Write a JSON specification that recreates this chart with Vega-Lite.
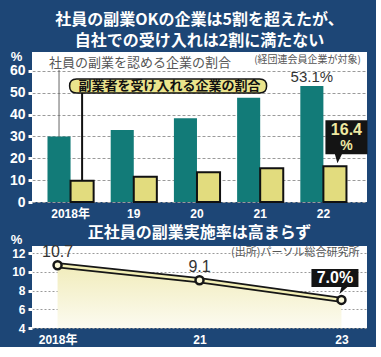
{
  "$schema": "https://vega.github.io/schema/vega-lite/v6.json",
  "background": "#1d4676",
  "padding": {"left": 9, "top": 12, "right": 8, "bottom": 2},
  "spacing": 6,
  "config": {
    "view": {"stroke": null, "fill": "white"},
    "font": "Liberation Sans, Noto Sans CJK JP",
    "title": {"color": "white", "font": "Noto Sans CJK JP", "fontWeight": "bold", "frame": "group", "anchor": "middle"},
    "axis": {"domain": false, "labelColor": "white", "labelFontWeight": "bold", "labelFont": "Liberation Sans, Noto Sans CJK JP"}
  },
  "vconcat": [
    {
      "title": {"text": ["社員の副業OKの企業は5割を超えたが、", "自社での受け入れは2割に満たない"], "fontSize": 16, "lineHeight": 21, "offset": 1},
      "width": 335,
      "height": 150,
      "data": {"values": [
        {"label": "2018年", "series": "a", "value": 30.0},
        {"label": "2018年", "series": "b", "value": 9.7},
        {"label": "19", "series": "a", "value": 33.0},
        {"label": "19", "series": "b", "value": 11.6},
        {"label": "20", "series": "a", "value": 38.4},
        {"label": "20", "series": "b", "value": 13.6},
        {"label": "21", "series": "a", "value": 47.8},
        {"label": "21", "series": "b", "value": 15.5},
        {"label": "22", "series": "a", "value": 53.1},
        {"label": "22", "series": "b", "value": 16.4}
      ]},
      "encoding": {
        "x": {"field": "label", "type": "nominal", "scale": {"domain": ["2018年", "19", "20", "21", "22"], "paddingInner": 0.27, "paddingOuter": 0.285, "align": 0.43},
          "axis": {"title": null, "labelAngle": 0, "labelFontSize": 12, "labelPadding": 6, "ticks": false}},
        "xOffset": {"field": "series", "type": "nominal", "scale": {"domain": ["a", "b"], "paddingInner": 0}},
        "y": {"field": "value", "type": "quantitative", "scale": {"domain": [0, 68.7], "nice": false, "zero": true},
          "axis": {"values": [0, 10, 20, 30, 40, 50, 60], "title": "%", "titleAngle": 0, "titleX": -16, "titleY": 4, "titleAlign": "center", "titleBaseline": "middle", "titleColor": "white", "titleFontSize": 13, "titleFontWeight": "bold", "labelFontSize": 14, "labelPadding": 3, "tickColor": "white", "tickSize": 4, "tickWidth": 3, "gridColor": "#9a9a9a", "gridDash": [3, 2], "gridWidth": 1}}
      },
      "layer": [
        {"transform": [{"filter": "datum.series === 'a'"}], "mark": {"type": "bar", "color": "#127b78"}},
        {"transform": [{"filter": "datum.series === 'b'"}], "mark": {"type": "bar", "fill": "#e2dc7e", "stroke": "#111111", "strokeWidth": 2}},
        {
          "data": {"values": [{"label": "2018年", "series": "a", "value": 60.5, "end": 30.0}]},
          "mark": {"type": "rule", "color": "#666666", "strokeWidth": 1},
          "encoding": {"y2": {"field": "end"}}
        },
        {
          "data": {"values": [{"label": "2018年", "series": "b", "value": 53.1, "end": 9.7}]},
          "mark": {"type": "rule", "color": "#111111", "strokeWidth": 2},
          "encoding": {"y2": {"field": "end"}}
        },
        {
          "data": {"values": [{"label": "2018年", "series": "b", "value": 53.1}]},
          "mark": {"type": "point", "shape": "M-5.5,-7L177.5,-7Q184.5,-7 184.5,0Q184.5,7 177.5,7L-5.5,7Q-12.5,7 -12.5,0Q-12.5,-7 -5.5,-7Z", "size": 4, "filled": true, "fill": "#ebe48c", "stroke": "#111111", "strokeWidth": 1.5, "opacity": 1}
        },
        {
          "data": {"values": [{"label": "2018年", "series": "b", "value": 53.1, "text": "副業者を受け入れる企業の割合"}]},
          "mark": {"type": "text", "align": "left", "baseline": "middle", "dx": -3.5, "fontSize": 13, "fontWeight": "bold", "font": "Noto Sans CJK JP", "color": "#111111"},
          "encoding": {"text": {"field": "text"}}
        },
        {
          "data": {"values": [{"label": "2018年", "series": "a", "value": 63.7, "text": "社員の副業を認める企業の割合"}]},
          "mark": {"type": "text", "align": "left", "baseline": "middle", "dx": -10, "fontSize": 13, "font": "Noto Sans CJK JP", "color": "#555555"},
          "encoding": {"text": {"field": "text"}}
        },
        {
          "data": {"values": [{"label": "22", "series": "b", "value": 65.0, "text": "(経団連会員企業が対象)"}]},
          "mark": {"type": "text", "align": "right", "baseline": "middle", "dx": 26, "fontSize": 10, "font": "Noto Sans CJK JP", "color": "#555555"},
          "encoding": {"text": {"field": "text"}}
        },
        {
          "data": {"values": [{"label": "22", "series": "a", "value": 53.1, "text": "53.1%"}]},
          "mark": {"type": "text", "align": "center", "baseline": "middle", "dy": -9, "fontSize": 15, "color": "#333333"},
          "encoding": {"text": {"field": "text"}}
        },
        {
          "data": {"values": [{"label": "22", "series": "b", "value": 16.4}]},
          "mark": {"type": "point", "shape": "M-9.5,-46L32.5,-46L32.5,-12L7,-12L2.5,-3L0,-12L-9.5,-12Z", "size": 4, "filled": true, "fill": "#141414", "opacity": 1}
        },
        {
          "data": {"values": [{"label": "22", "series": "b", "value": 16.4, "text": "16.4"}]},
          "mark": {"type": "text", "align": "center", "baseline": "middle", "dx": 11.5, "dy": -36, "fontSize": 16, "fontWeight": "bold", "color": "#efe9a2"},
          "encoding": {"text": {"field": "text"}}
        },
        {
          "data": {"values": [{"label": "22", "series": "b", "value": 16.4, "text": "%"}]},
          "mark": {"type": "text", "align": "center", "baseline": "middle", "dx": 11.5, "dy": -20, "fontSize": 14, "fontWeight": "bold", "color": "#efe9a2"},
          "encoding": {"text": {"field": "text"}}
        }
      ]
    },
    {
      "title": {"text": "正社員の副業実施率は高まらず", "fontSize": 16, "offset": -8},
      "width": 335,
      "height": 82,
      "data": {"values": [
        {"label": "2018年", "value": 10.7, "text": "10.7"},
        {"label": "21", "value": 9.1, "text": "9.1"},
        {"label": "23", "value": 7.0, "text": "7.0%"}
      ]},
      "encoding": {
        "x": {"field": "label", "type": "ordinal", "scale": {"type": "point", "domain": ["2018年", "21", "23"], "padding": 0.18},
          "axis": {"title": null, "labelAngle": 0, "labelFontSize": 12, "labelPadding": 6, "ticks": false, "grid": false}},
        "y": {"field": "value", "type": "quantitative", "scale": {"domain": [4, 12.75], "nice": false, "zero": false},
          "axis": {"values": [4, 6, 8, 10, 12], "title": "%", "titleAngle": 0, "titleX": -16, "titleY": -7, "titleAlign": "center", "titleBaseline": "middle", "titleColor": "white", "titleFontSize": 13, "titleFontWeight": "bold", "labelFontSize": 12, "labelPadding": 3, "tickColor": "white", "tickSize": 4, "tickWidth": 3, "gridColor": "#9a9a9a", "gridDash": [2, 2], "gridWidth": 1}}
      },
      "layer": [
        {
          "mark": {"type": "area", "color": {"x1": 0, "y1": 0, "x2": 0, "y2": 1, "gradient": "linear", "stops": [{"offset": 0, "color": "#f1ecbb"}, {"offset": 1, "color": "#fcfbf0"}]}},
          "encoding": {"y2": {"datum": 4}}
        },
        {"mark": {"type": "line", "color": "#161616", "strokeWidth": 6}},
        {"mark": {"type": "line", "color": "#f3efb5", "strokeWidth": 2.5}},
        {"mark": {"type": "point", "shape": "circle", "size": 64, "filled": true, "fill": "#fbf8d8", "stroke": "#161616", "strokeWidth": 2.5, "opacity": 1}},
        {
          "transform": [{"filter": "datum.label !== '23'"}],
          "mark": {"type": "text", "align": "center", "baseline": "middle", "dy": -13, "fontSize": 16, "color": "#333333"},
          "encoding": {"text": {"field": "text"}}
        },
        {
          "data": {"values": [{"label": "23", "value": 12.0, "text": "(出所)パーソル総合研究所"}]},
          "mark": {"type": "text", "align": "right", "baseline": "middle", "dx": 18, "fontSize": 11, "font": "Noto Sans CJK JP", "color": "#555555"},
          "encoding": {"text": {"field": "text"}}
        },
        {
          "transform": [{"filter": "datum.label === '23'"}],
          "mark": {"type": "point", "shape": "M-30,-31L17,-31L17,-13L6,-13L-2,-6L0,-13L-30,-13Z", "size": 4, "filled": true, "fill": "#141414", "opacity": 1}
        },
        {
          "transform": [{"filter": "datum.label === '23'"}],
          "mark": {"type": "text", "align": "center", "baseline": "middle", "dx": -6.5, "dy": -22, "fontSize": 16, "fontWeight": "bold", "color": "white"},
          "encoding": {"text": {"field": "text"}}
        }
      ]
    }
  ]
}
